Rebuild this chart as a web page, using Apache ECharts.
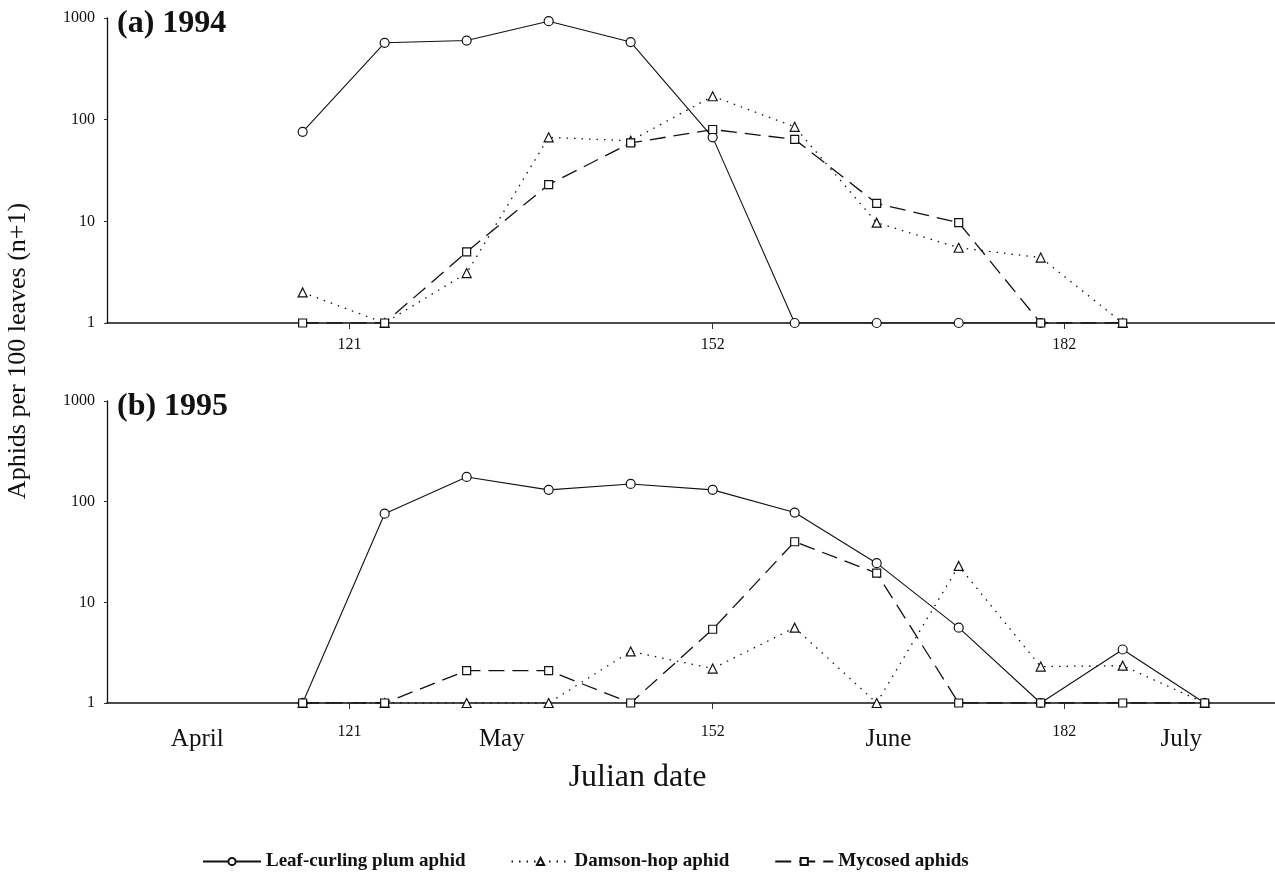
<!DOCTYPE html>
<html>
<head>
<meta charset="utf-8">
<script src="https://cdn.jsdelivr.net/npm/echarts@6/dist/echarts.min.js"></script>
<style>html,body{margin:0;padding:0;background:#fff;}#c{width:1275px;height:881px;}</style>
</head>
<body>
<div id="c"></div>
<script>
// ---- data (Julian day of sampling, aphids per 100 leaves, n+1) ----
const seriesNames = ['Leaf-curling plum aphid', 'Damson-hop aphid', 'Mycosed aphids'];

const days1994 = [117, 124, 131, 138, 145, 152, 159, 166, 173, 180, 187];
const leaf1994 = [76, 570, 600, 930, 580, 67, 1, 1, 1, 1];
const damson1994 = [2.0, 1, 3.1, 67, 62, 170, 85, 9.7, 5.5, 4.4, 1];
const myco1994 = [1, 1, 5.0, 23, 59, 80, 64, 15, 9.7, 1, 1];

const days1995 = [117, 124, 131, 138, 145, 152, 159, 166, 173, 180, 187, 194];
const leaf1995 = [1, 76, 176, 131, 150, 131, 78, 24.5, 5.6, 1, 3.4, 1];
const damson1995 = [1, 1, 1, 1, 3.25, 2.2, 5.6, 1, 23, 2.3, 2.35, 1];
const myco1995 = [1, 1, 2.1, 2.1, 1, 5.4, 40, 19.5, 1, 1, 1, 1];

const dayTicks = [121, 152, 182];
const monthNames = ['April', 'May', 'June', 'July'];
const monthPos = [108, 134, 167, 192];
const yTicks = [1, 10, 100, 1000];
const panelTitles = ['(a) 1994', '(b) 1995'];
const xTitle = 'Julian date';
const yTitle = 'Aphids per 100 leaves (n+1)';

// ---- helpers ----
function zip(xs, ys) { return ys.map((v, i) => [xs[i], v]); }
const SERIF = '"Liberation Serif", "Times New Roman", serif';
const styles = [
  { symbol: 'circle', size: 9, line: { type: 'solid', width: 1.1 } },
  { symbol: 'triangle', size: 9, line: { type: [1.5, 6], width: 1.3 } },
  { symbol: 'rect', size: 8, line: { type: [16, 8], width: 1.3 } }
];
function mkSeries(idx, data, axisIndex) {
  const s = styles[idx];
  return {
    name: seriesNames[idx], type: 'line',
    xAxisIndex: axisIndex, yAxisIndex: axisIndex,
    data: data, symbol: s.symbol, symbolSize: s.size, showAllSymbol: true,
    lineStyle: { color: '#111', width: s.line.width, type: s.line.type },
    itemStyle: { color: '#fff', borderColor: '#111', borderWidth: 1.2 },
    emphasis: { disabled: true }, animation: false, z: 3 + idx
  };
}
function xAxisDef(gi, withMonths) {
  const labelVals = withMonths ? dayTicks.concat(monthPos) : dayTicks;
  return {
    type: 'value', gridIndex: gi, min: 100.3, max: 200,
    axisLine: { show: true, onZero: false, lineStyle: { color: '#111', width: 1.6 } },
    axisTick: { show: true, customValues: dayTicks, length: 6, inside: false, lineStyle: { color: '#333' } },
    splitLine: { show: false },
    axisLabel: {
      customValues: labelVals, margin: withMonths ? 21 : 14, color: '#111', fontFamily: SERIF, fontSize: 16,
      formatter: function (v) {
        const mi = monthPos.indexOf(v);
        if (mi >= 0) return '{m|' + monthNames[mi] + '}';
        return '{t|' + v + '}';
      },
      rich: {
        t: { fontFamily: SERIF, fontSize: 16, color: '#111' },
        m: { fontFamily: SERIF, fontSize: 25, color: '#111', padding: [3, 0, 0, 0] }
      }
    }
  };
}
function yAxisDef(gi) {
  return {
    type: 'log', logBase: 10, gridIndex: gi, min: 1, max: 1000,
    axisLine: { show: true, lineStyle: { color: '#111', width: 1.3 } },
    axisTick: { show: true, length: 3, lineStyle: { color: '#333' } },
    minorTick: { show: false },
    splitLine: { show: false },
    axisLabel: { color: '#111', fontFamily: SERIF, fontSize: 16, margin: 12,
      formatter: function (v) { return yTicks.indexOf(Math.round(v)) >= 0 ? String(Math.round(v)) : ''; } }
  };
}

const chart = echarts.init(document.getElementById('c'), null, { renderer: 'canvas' });
chart.setOption({
  backgroundColor: '#fff',
  animation: false,
  title: [
    { text: panelTitles[0], left: 112, top: 3, textStyle: { fontFamily: SERIF, fontWeight: 'bold', fontSize: 32, color: '#111' } },
    { text: panelTitles[1], left: 112, top: 386, textStyle: { fontFamily: SERIF, fontWeight: 'bold', fontSize: 32, color: '#111' } },
    { text: xTitle, left: 'center', top: 757, textStyle: { fontFamily: SERIF, fontWeight: 'normal', fontSize: 32, color: '#111' } }
  ],
  grid: [
    { left: 107, right: 0, top: 18, height: 305 },
    { left: 107, right: 0, top: 401, height: 302 }
  ],
  xAxis: [xAxisDef(0, false), xAxisDef(1, true)],
  yAxis: [yAxisDef(0), yAxisDef(1)],
  legend: {
    data: seriesNames, left: 197, top: 847, itemWidth: 58, itemHeight: 9, itemGap: 45,
    textStyle: { fontFamily: SERIF, fontWeight: 'bold', fontSize: 19, color: '#111' },
    selectedMode: false
  },
  graphic: [{
    type: 'text', x: 18, y: 351, rotation: Math.PI / 2,
    style: { text: yTitle, font: '26px ' + SERIF, fill: '#111', textAlign: 'center', textVerticalAlign: 'middle' }
  }],
  series: [
    mkSeries(0, zip(days1994, leaf1994), 0),
    mkSeries(1, zip(days1994, damson1994), 0),
    mkSeries(2, zip(days1994, myco1994), 0),
    mkSeries(0, zip(days1995, leaf1995), 1),
    mkSeries(1, zip(days1995, damson1995), 1),
    mkSeries(2, zip(days1995, myco1995), 1)
  ]
});
</script>
</body>
</html>
